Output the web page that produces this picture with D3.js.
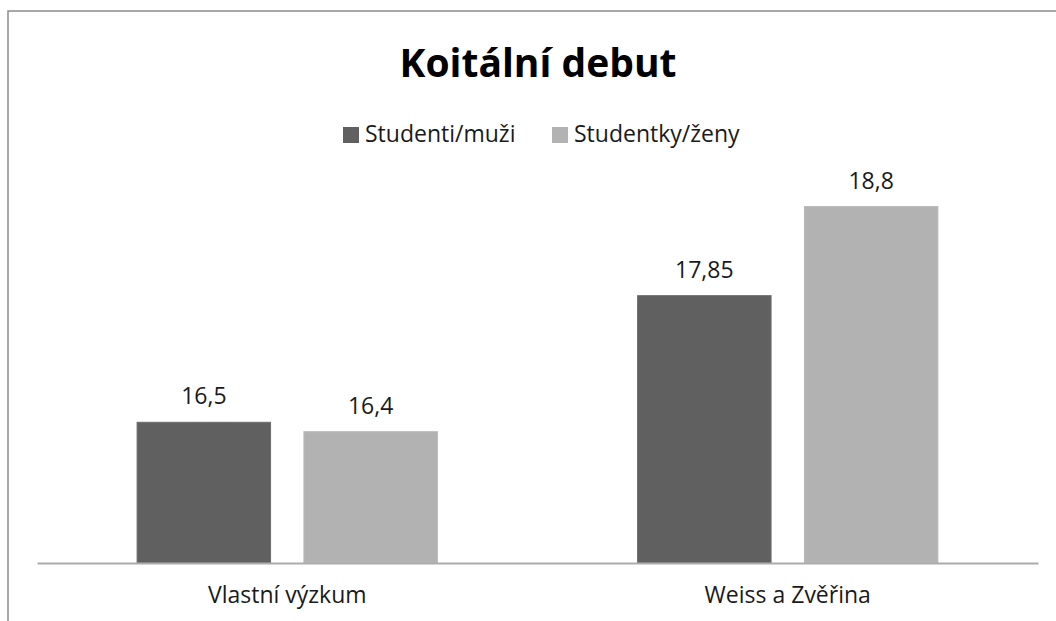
<!DOCTYPE html>
<html>
<head>
<meta charset="utf-8">
<script src="https://cdn.jsdelivr.net/npm/d3@7"></script>
<style>
  body { margin: 0; background: #fff; }
  svg { display: block; font-family: "Open Sans", sans-serif; }
</style>
</head>
<body>
<div id="chart"></div>
<script>
const width = 1056;
const height = 621;

const categories = ["Vlastní výzkum", "Weiss a Zvěřina"];
const seriesNames = ["Studenti/muži", "Studentky/ženy"];
const men = [16.5, 17.85];
const women = [16.4, 18.8];
const labels = [["16,5", "16,4"], ["17,85", "18,8"]];

const colors = ["#606060", "#b2b2b2"];
const plot = { left: 37, right: 1038, bottom: 563 };

const svg = d3.create("svg").attr("width", width).attr("height", height);

// chart frame (only left and top edges are visible in the crop)
svg.append("rect")
  .attr("x", 8)
  .attr("y", 11)
  .attr("width", width + 20)
  .attr("height", height + 20)
  .attr("fill", "#fff")
  .attr("stroke", "#8c8c8c")
  .attr("stroke-width", 1.5);

const x0 = d3.scaleBand()
  .domain(categories)
  .range([plot.left, plot.right])
  .padding(0);

const x1 = d3.scaleBand()
  .domain(seriesNames)
  .range([0, x0.bandwidth()])
  .paddingInner(0.2)
  .paddingOuter(0.6);

const y = d3.scaleLinear()
  .domain([15, 19])
  .range([plot.bottom, plot.bottom - 4 * 93.8]);

const rows = categories.map((c, i) => ({
  category: c,
  values: [men[i], women[i]].map((v, j) => ({
    series: seriesNames[j], value: v, label: labels[i][j], idx: j
  }))
}));

const groups = svg.selectAll("g.group")
  .data(rows)
  .join("g")
  .attr("class", "group")
  .attr("transform", d => `translate(${x0(d.category)},0)`);

groups.selectAll("rect")
  .data(d => d.values)
  .join("rect")
  .attr("x", d => x1(d.series))
  .attr("y", d => y(d.value))
  .attr("width", x1.bandwidth())
  .attr("height", d => y(15) - y(d.value))
  .attr("fill", d => colors[d.idx])
  .attr("stroke", d => d.idx === 0 ? "#6c6c6c" : "#bababa")
  .attr("stroke-width", 1);

groups.selectAll("text.val")
  .data(d => d.values)
  .join("text")
  .attr("class", "val")
  .attr("x", d => x1(d.series) + x1.bandwidth() / 2)
  .attr("y", d => y(d.value) - 18)
  .attr("text-anchor", "middle")
  .attr("font-size", "23px")
  .attr("fill", "#1a1a1a")
  .text(d => d.label);

// category axis
const xAxis = svg.append("g")
  .attr("transform", `translate(0,${plot.bottom})`)
  .call(d3.axisBottom(x0).tickSize(0).tickPadding(28));

xAxis.select(".domain")
  .attr("stroke", "#acacac")
  .attr("stroke-width", 2);

xAxis.selectAll("text")
  .attr("font-family", "Open Sans, sans-serif")
  .attr("font-size", "23px")
  .attr("fill", "#1a1a1a")
  .attr("dy", 0)
  .attr("y", 40);

// title
svg.append("text")
  .attr("x", 538)
  .attr("y", 77)
  .attr("text-anchor", "middle")
  .attr("font-size", "39px")
  .attr("font-weight", "bold")
  .attr("fill", "#000")
  .text("Koitální debut");

// legend
const legendX = [343, 552];
const legend = svg.selectAll("g.legend")
  .data(seriesNames)
  .join("g")
  .attr("class", "legend")
  .attr("transform", (d, i) => `translate(${legendX[i]},127)`);

legend.append("rect")
  .attr("width", 16)
  .attr("height", 16)
  .attr("fill", (d, i) => colors[i]);

legend.append("text")
  .attr("x", 22)
  .attr("y", 15)
  .attr("font-size", "23px")
  .attr("fill", "#1a1a1a")
  .text(d => d);

document.getElementById("chart").appendChild(svg.node());
</script>
</body>
</html>
